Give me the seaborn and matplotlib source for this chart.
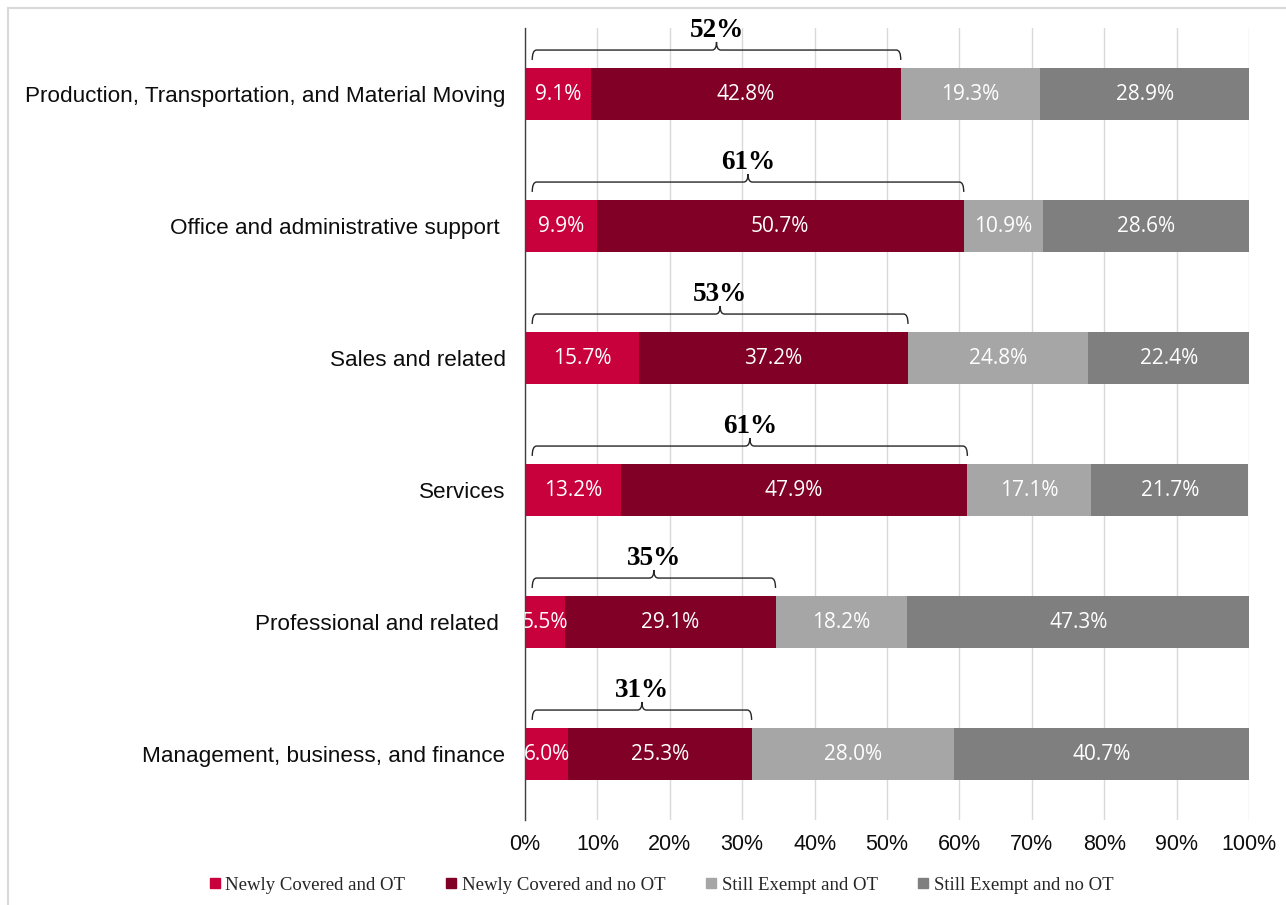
import matplotlib
matplotlib.use("Agg")
import matplotlib.pyplot as plt
import seaborn as sns
import numpy as np
import pandas as pd
from matplotlib.path import Path
from matplotlib.patches import PathPatch, Rectangle
from matplotlib.lines import Line2D

# data, top row first
categories = ["Production, Transportation, and Material Moving",
              "Office and administrative support ",
              "Sales and related",
              "Services",
              "Professional and related ",
              "Management, business, and finance"]
newly_ot = [9.1, 9.9, 15.7, 13.2, 5.5, 6.0]
newly_no_ot = [42.8, 50.7, 37.2, 47.9, 29.1, 25.3]
exempt_ot = [19.3, 10.9, 24.8, 17.1, 18.2, 28.0]
exempt_no_ot = [28.9, 28.6, 22.4, 21.7, 47.3, 40.7]
brace_labels = ["52%", "61%", "53%", "61%", "35%", "31%"]
series_names = ["Newly Covered and OT", "Newly Covered and no OT",
                "Still Exempt and OT", "Still Exempt and no OT"]
colors = ["#C8003C", "#800026", "#A6A6A6", "#7F7F7F"]

sns.set_theme(style="white")
plt.rcParams["font.family"] = ["Liberation Sans", "DejaVu Sans"]

series = [newly_ot, newly_no_ot, exempt_ot, exempt_no_ot]
df = pd.DataFrame({"cat": categories})
cum = np.cumsum(np.array(series), axis=0)
for k, name in enumerate(series_names):
    df[name] = cum[k]

fig = plt.figure(figsize=(12.86, 9.05), dpi=100)
ax = fig.add_axes([525 / 1286, 1 - 820 / 905, 724 / 1286, 792 / 905])

# stacked bars: draw cumulative totals, widest first
for k in range(3, -1, -1):
    sns.barplot(data=df, x=series_names[k], y="cat", color=colors[k],
                saturation=1, width=0.394, ax=ax, zorder=2, edgecolor="none")

ax.set_xlim(0, 100)
ax.set_ylim(5.5, -0.5)
ax.set_xticks(np.arange(0, 101, 10))
ax.set_xticklabels([f"{v}%" for v in range(0, 101, 10)], fontsize=15.5)
ax.set_yticks(range(len(categories)))
ax.set_yticklabels(categories, fontsize=16.2)
ax.tick_params(axis="y", length=0, pad=14, labelcolor="#0D0D0D")
ax.tick_params(axis="x", length=0, pad=10, labelcolor="#0D0D0D")
ax.set_xlabel("")
ax.set_ylabel("")
ax.xaxis.grid(True, color="#D9D9D9", lw=1, zorder=0)
ax.set_axisbelow(True)
for s in ["top", "right", "bottom"]:
    ax.spines[s].set_visible(False)
ax.spines["left"].set_color("#404040")
ax.spines["left"].set_linewidth(1)
ax.spines["left"].set_zorder(3)

# segment labels
for i in range(len(categories)):
    left = 0
    for k in range(4):
        w = series[k][i]
        ax.text(left + w / 2, i, f"{w:.1f}%", ha="center", va="center",
                color="white", fontsize=15, family=["Open Sans", "DejaVu Sans"],
                zorder=4, clip_on=True)
        left += w

# braces over the newly covered share
for i in range(len(categories)):
    x0 = 1.0
    x1 = newly_ot[i] + newly_no_ot[i]
    xm = (x0 + x1) / 2
    yl = i - 0.333
    yb = i - 0.258
    yp = i - 0.394
    d = 0.6
    verts = [(x0, yb), (x0, yl), (x0 + d, yl),
             (xm - d, yl), (xm, yl), (xm, yp),
             (xm, yl), (xm + d, yl),
             (x1 - d, yl), (x1, yl), (x1, yb)]
    codes = [Path.MOVETO, Path.CURVE3, Path.CURVE3,
             Path.LINETO, Path.CURVE3, Path.CURVE3,
             Path.CURVE3, Path.CURVE3,
             Path.LINETO, Path.CURVE3, Path.CURVE3]
    ax.add_patch(PathPatch(Path(verts, codes), fill=False, lw=1,
                           edgecolor="#262626", clip_on=False, zorder=5))
    ax.text(xm, i - 0.48, brace_labels[i], ha="center", va="center",
            fontsize=19.5, fontweight="bold", family=["Liberation Serif", "DejaVu Serif"],
            color="black")

# legend
handles = [Line2D([], [], marker="s", ls="none", markersize=7,
                  markerfacecolor=c, markeredgecolor=c) for c in colors]
fig.legend(handles, series_names, loc="center", ncol=4,
           bbox_to_anchor=(660 / 1286, 1 - 885 / 905), frameon=False,
           prop={"family": "Liberation Serif", "size": 13.5},
           handletextpad=0.1, columnspacing=2.0, handlelength=0.9)

# light frame around the chart area
fig.patches.append(Rectangle((8 / 1286, -0.1), 1.2, 1 - 8 / 905 + 0.1,
                             transform=fig.transFigure, fill=False,
                             edgecolor="#D9D9D9", lw=1.5))

fig.savefig("out.png", dpi=100)
